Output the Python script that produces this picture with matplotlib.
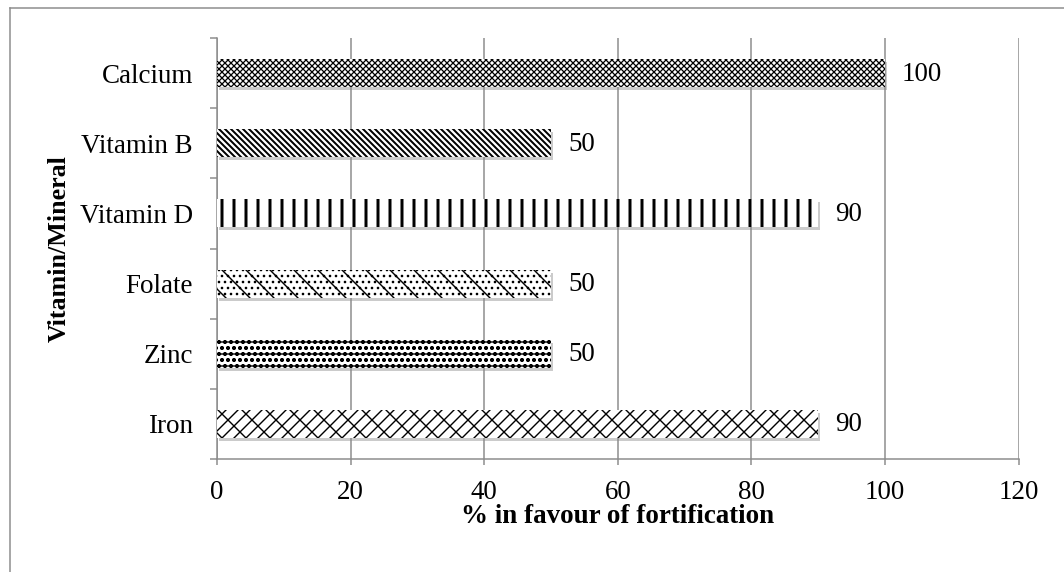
import numpy as np
import matplotlib
matplotlib.use('Agg')
import matplotlib.pyplot as plt
from matplotlib.lines import Line2D
from matplotlib.transforms import ScaledTranslation

# data (bottom to top)
nutrients = ['Iron', 'Zinc', 'Folate', 'Vitamin D', 'Vitamin B', 'Calcium']
percent = [90, 50, 50, 90, 50, 100]
hatches = ['//\\', '-oo', '\\..', '|', '\\\\\\\\', 'xxxx']
hatch_lw = [1.4, 1.4, 1.4, 3.0, 2.0, 1.3]

plt.rcParams['font.family'] = ['Liberation Serif', 'DejaVu Serif']
plt.rcParams['hatch.color'] = 'black'

DPI = 72
fig = plt.figure(figsize=(1064 / DPI, 572 / DPI), dpi=DPI)
ax = fig.add_axes([217 / 1064, 1 - 459 / 572, (1018.5 - 217) / 1064, (459 - 38) / 572])

y = np.arange(len(nutrients))

# soft shadow under each bar
shadow = ax.transData + ScaledTranslation(2 / 72, -3 / 72, fig.dpi_scale_trans)
ax.barh(y, percent, height=0.4, color='0.55', alpha=0.45, linewidth=0,
        transform=shadow, zorder=2)

bars = ax.barh(y, percent, height=0.4, color='white', edgecolor='black',
               linewidth=0, zorder=3)
for b, h, lw in zip(bars, hatches, hatch_lw):
    b.set_hatch(h)
    if hasattr(b, 'set_hatch_linewidth'):
        b.set_hatch_linewidth(lw)

for yi, v in zip(y, percent):
    ax.annotate(str(v), (v, yi), xytext=(17, -1), textcoords='offset points',
                ha='left', va='center', fontsize=27)

ax.set_xlim(0, 120)
ax.set_ylim(-0.5, len(nutrients) - 0.5)
ax.set_xticks(np.arange(0, 121, 20))
ax.set_yticks(y)
ax.set_yticklabels(nutrients)
ax.set_yticks(np.arange(-0.5, len(nutrients), 1), minor=True)

gray = '#8c8c8c'
ax.grid(axis='x', color=gray, linewidth=1.5, zorder=0)
ax.set_axisbelow(True)
for s in ['top', 'right']:
    ax.spines[s].set_visible(False)
for s in ['left', 'bottom']:
    ax.spines[s].set_color(gray)
    ax.spines[s].set_linewidth(1.5)

ax.tick_params(axis='y', which='major', length=0, pad=24, labelsize=27)
ax.tick_params(axis='y', which='minor', length=7, width=1.5, color=gray)
ax.tick_params(axis='x', which='major', length=6, width=1.5, color=gray,
               pad=15, labelsize=27)

ax.set_xlabel('% in favour of fortification', fontsize=27, fontweight='bold')
ax.xaxis.set_label_coords(0.5, -0.108)
ax.set_ylabel('Vitamin/Mineral', fontsize=26, fontweight='bold')
ax.yaxis.set_label_coords(-0.183, 0.5)

# chart area border (only left and top visible in the crop)
x0, y0 = 10 / 1064, 1 - 8 / 572
fig.add_artist(Line2D([x0, x0], [0, y0], transform=fig.transFigure, color=gray, lw=1.5))
fig.add_artist(Line2D([x0, 1], [y0, y0], transform=fig.transFigure, color=gray, lw=1.5))

fig.savefig('out.png', dpi=DPI)
